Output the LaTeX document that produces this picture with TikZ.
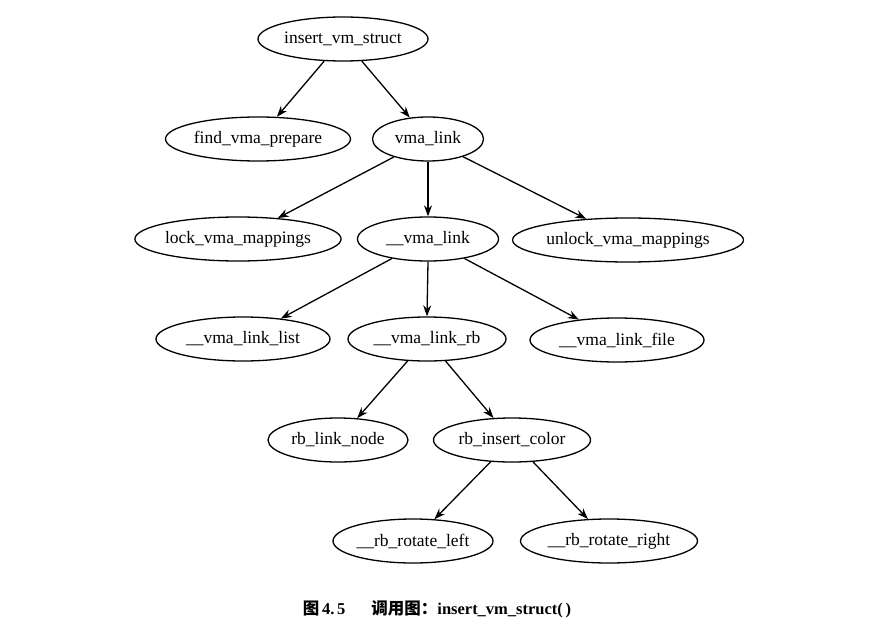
\documentclass[tikz,border=0pt]{standalone}
\usepackage{fontspec}
\setmainfont{Liberation Serif}
\newfontfamily\cjk{Noto Sans CJK SC}
\usetikzlibrary{shapes.geometric,arrows.meta}
\begin{document}
\begin{tikzpicture}[x=1pt,y=-1pt,
  fn/.style={ellipse,draw,line width=1.3pt,inner sep=0pt,minimum height=44pt,font=\fontsize{17.5}{19}\selectfont},
  call/.style={draw,line width=1.3pt,-{Stealth[length=11pt,width=8pt]}}]
\useasboundingbox (0,0) rectangle (877,631);
\node[fn,minimum width=170pt] (ivs) at (343,39) {insert\_vm\_struct};
\node[fn,minimum width=185pt] (fvp) at (258,139) {find\_vma\_prepare};
\node[fn,minimum width=111pt] (vl) at (428,139) {vma\_link};
\node[fn,minimum width=202pt] (lvm) at (238,239) {lock\_vma\_mappings};
\node[fn,minimum width=141pt] (uvl) at (428,239) {\_\_vma\_link};
\node[fn,minimum width=223pt] (uvm) at (628,240) {unlock\_vma\_mappings};
\node[fn,minimum width=174pt] (vll) at (243,339) {\_\_vma\_link\_list};
\node[fn,minimum width=158pt] (vlr) at (427,339) {\_\_vma\_link\_rb};
\node[fn,minimum width=174pt] (vlf) at (617,340) {\_\_vma\_link\_file};
\node[fn,minimum width=140pt] (rln) at (338,440) {rb\_link\_node};
\node[fn,minimum width=157pt] (ric) at (512,440) {rb\_insert\_color};
\node[fn,minimum width=160pt] (rrl) at (413,541) {\_\_rb\_rotate\_left};
\node[fn,minimum width=177pt] (rrr) at (609,541) {\_\_rb\_rotate\_right};
\draw[call] (ivs) -- (fvp);
\draw[call] (ivs) -- (vl);
\draw[call] (vl) -- (lvm);
\draw[call] (vl.south) -- (uvl.north);
\draw[call] (vl) -- (uvm);
\draw[call] (uvl) -- (vll);
\draw[call] (uvl.south) -- (vlr.north);
\draw[call] (uvl) -- (vlf);
\draw[call] (vlr) -- (rln);
\draw[call] (vlr) -- (ric);
\draw[call] (ric) -- (rrl);
\draw[call] (ric) -- (rrr);
\node[font=\bfseries\fontsize{16.5}{18}\selectfont] (cap) at (437,609) {{\cjk\bfseries 图}\,4.\,5\hspace{26pt}{\cjk\bfseries 调用图：}insert\_vm\_struct(\,)};
\end{tikzpicture}
\end{document}
